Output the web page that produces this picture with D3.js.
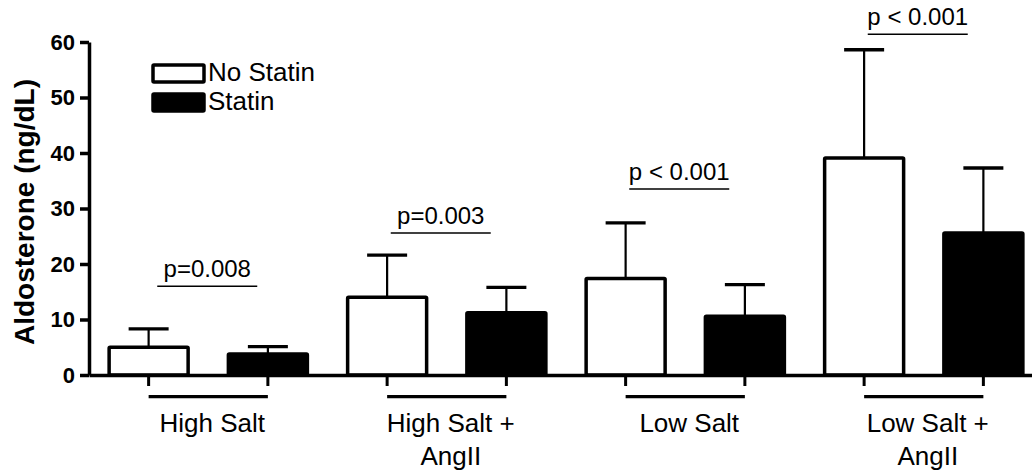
<!DOCTYPE html>
<html>
<head>
<meta charset="utf-8">
<script src="https://cdn.jsdelivr.net/npm/d3@7"></script>
<style>
  body { margin: 0; background: #fff; }
  svg { display: block; font-family: 'Liberation Sans', Arial, sans-serif; }
</style>
</head>
<body>
<div id="chart"></div>
<script>
// Aldosterone by diet, with and without statin
const groups = ['High Salt', 'High Salt + AngII', 'Low Salt', 'Low Salt + AngII'];
const groupLines = [['High Salt'], ['High Salt +', 'AngII'], ['Low Salt'], ['Low Salt +', 'AngII']];
const series = ['No Statin', 'Statin'];
const noStatinMean = [5.0, 14.0, 17.4, 39.1];
const noStatinErr = [3.3, 7.6, 10.0, 19.5];
const statinMean = [3.8, 11.2, 10.6, 25.6];
const statinErr = [1.3, 4.6, 5.7, 11.7];
const pLabels = ['p=0.008', 'p=0.003', 'p < 0.001', 'p < 0.001'];
const pLevels = [16.0, 25.6, 33.5, 61.4];
const yTicks = [0, 10, 20, 30, 40, 50, 60];

const width = 1032;
const height = 474;
const axisW = 3.5;

const svg = d3.select('#chart').append('svg').attr('width', width).attr('height', height);

// Scales
const x = d3.scaleBand().domain(groups).range([89, 1043]);
const xSub = d3.scalePoint().domain(series).range([0, x.bandwidth()]).padding(0.5);
const y = d3.scaleLinear().domain([0, 60]).range([375, 42]);

const barW = 79;
const capW = 40;

// Flatten to one row per bar
const rows = [];
groups.forEach((g, i) => {
  rows.push({ group: g, series: 'No Statin', mean: noStatinMean[i], err: noStatinErr[i] });
  rows.push({ group: g, series: 'Statin', mean: statinMean[i], err: statinErr[i] });
});
const cx = (d) => x(d.group) + xSub(d.series);

// Error bars (behind the bars)
const errG = svg.append('g').attr('class', 'errors');
errG
  .selectAll('.stem')
  .data(rows)
  .enter()
  .append('line')
  .attr('x1', cx)
  .attr('x2', cx)
  .attr('y1', (d) => y(d.mean))
  .attr('y2', (d) => y(d.mean + d.err))
  .attr('stroke', '#000')
  .attr('stroke-width', 2.2);
errG
  .selectAll('.cap')
  .data(rows)
  .enter()
  .append('line')
  .attr('x1', (d) => cx(d) - capW / 2)
  .attr('x2', (d) => cx(d) + capW / 2)
  .attr('y1', (d) => y(d.mean + d.err))
  .attr('y2', (d) => y(d.mean + d.err))
  .attr('stroke', '#000')
  .attr('stroke-width', 3.3);

// Bars
svg
  .append('g')
  .attr('class', 'bars')
  .selectAll('rect')
  .data(rows)
  .enter()
  .append('rect')
  .attr('x', (d) => cx(d) - barW / 2)
  .attr('width', barW)
  .attr('y', (d) => y(d.mean))
  .attr('height', (d) => y(0) - y(d.mean))
  .attr('rx', 1)
  .attr('fill', (d) => (d.series === 'Statin' ? '#000' : '#fff'))
  .attr('stroke', '#000')
  .attr('stroke-width', axisW);

// Y axis
const yAxis = svg
  .append('g')
  .attr('transform', 'translate(89,0)')
  .call(d3.axisLeft(y).tickValues(yTicks).tickSize(9).tickSizeOuter(0).tickPadding(5));
yAxis.select('.domain').attr('stroke-width', axisW);
yAxis.selectAll('.tick line').attr('stroke-width', axisW);
yAxis
  .selectAll('.tick text')
  .attr('fill', '#000')
  .style('font-size', '22px')
  .style('font-weight', 'bold')
  .style('font-family', "'Liberation Sans', Arial, sans-serif");

svg
  .append('text')
  .attr('transform', 'translate(34,212) rotate(-90)')
  .attr('text-anchor', 'middle')
  .style('font-size', '28px')
  .style('font-weight', 'bold')
  .text('Aldosterone (ng/dL)');

// X axis baseline
const xAxis = svg
  .append('g')
  .attr('transform', `translate(0,${y(0)})`)
  .call(d3.axisBottom(x).tickValues([]).tickSizeOuter(0));
xAxis.select('.domain').attr('stroke-width', axisW);

// Sub ticks under each bar
svg
  .append('g')
  .selectAll('line')
  .data(rows)
  .enter()
  .append('line')
  .attr('x1', cx)
  .attr('x2', cx)
  .attr('y1', y(0))
  .attr('y2', y(0) + 11)
  .attr('stroke', '#000')
  .attr('stroke-width', 3);

// Group underline + labels
const grp = svg
  .append('g')
  .selectAll('g')
  .data(groups)
  .enter()
  .append('g');

grp
  .append('line')
  .attr('x1', (g) => x(g) + xSub('No Statin'))
  .attr('x2', (g) => x(g) + xSub('Statin'))
  .attr('y1', 396.7)
  .attr('y2', 396.7)
  .attr('stroke', '#000')
  .attr('stroke-width', 3.3);

grp
  .append('text')
  .attr('text-anchor', 'middle')
  .style('font-size', '26px')
  .selectAll('tspan')
  .data((g, i) => groupLines[i].map((t) => ({ g, t })))
  .enter()
  .append('tspan')
  .attr('x', (d) => x(d.g) + x.bandwidth() / 2 + 4)
  .attr('y', (d, j) => 432 + j * 33)
  .text((d) => d.t);

// p-value annotations
const pG = svg
  .append('g')
  .selectAll('g')
  .data(groups)
  .enter()
  .append('g');
const pMid = (g, i) => x(g) + x.bandwidth() / 2 - (i === 0 ? 1 : 6);

pG
  .append('line')
  .attr('x1', (g, i) => pMid(g, i) - 50)
  .attr('x2', (g, i) => pMid(g, i) + 50)
  .attr('y1', (g, i) => y(pLevels[i]))
  .attr('y2', (g, i) => y(pLevels[i]))
  .attr('stroke', '#000')
  .attr('stroke-width', 1.5);

pG
  .append('text')
  .attr('x', (g, i) => pMid(g, i))
  .attr('y', (g, i) => y(pLevels[i]) - 9)
  .attr('text-anchor', 'middle')
  .style('font-size', '24px')
  .text((g, i) => pLabels[i]);

// Legend
const legend = svg
  .append('g')
  .attr('transform', 'translate(153,65)')
  .selectAll('g')
  .data(series)
  .enter()
  .append('g')
  .attr('transform', (d, i) => `translate(0,${i * 29})`);

legend
  .append('rect')
  .attr('width', 51)
  .attr('height', 17)
  .attr('rx', 1)
  .attr('fill', (d) => (d === 'Statin' ? '#000' : '#fff'))
  .attr('stroke', '#000')
  .attr('stroke-width', axisW);

legend
  .append('text')
  .attr('x', 55)
  .attr('y', 16)
  .style('font-size', '26px')
  .text((d) => d);
</script>
</body>
</html>
